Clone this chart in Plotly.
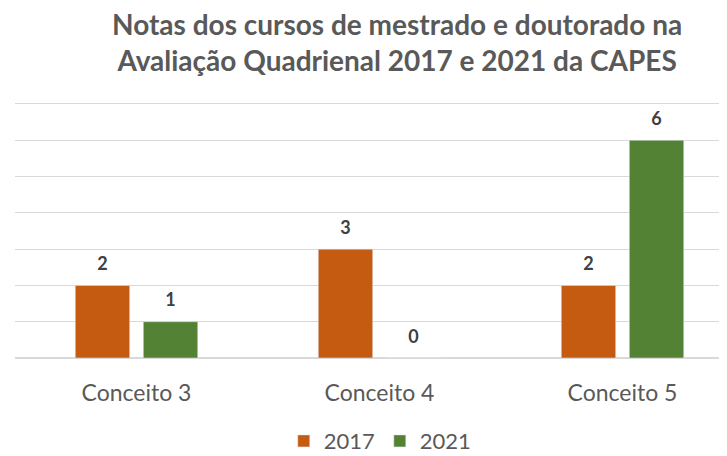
import plotly.graph_objects as go

categorias = ["Conceito 3", "Conceito 4", "Conceito 5"]
notas_2017 = [2, 3, 2]
notas_2021 = [1, 0, 6]

fonte = "Lato, 'Open Sans', sans-serif"
laranja = "#C55A11"
verde = "#548235"
cinza = "#595959"

fig = go.Figure()
for nome, valores, cor in [("2017", notas_2017, laranja), ("2021", notas_2021, verde)]:
    fig.add_trace(go.Bar(x=categorias, y=valores, name=nome, marker_color=cor,
                         offsetgroup=nome, hoverinfo="x+y+name"))
# rotulos de dados: scatter agrupado com marcador invisivel para afastar o texto da barra
for nome, valores in [("2017", notas_2017), ("2021", notas_2021)]:
    fig.add_trace(go.Scatter(x=categorias, y=valores, mode="markers+text", text=valores,
                             textposition="top center", offsetgroup=nome, showlegend=False,
                             hoverinfo="skip", cliponaxis=False,
                             marker=dict(size=16, opacity=0),
                             textfont=dict(size=18, color="#404040", family=fonte, weight="bold")))

# titulo como anotacao (titulo de duas linhas fica mal posicionado)
fig.add_annotation(text="Notas dos cursos de mestrado e doutorado na<br>Avaliação Quadrienal 2017 e 2021 da CAPES",
                   xref="paper", yref="paper", x=0.536, y=1.225, xanchor="center", yanchor="middle",
                   showarrow=False, font=dict(size=28, color=cinza, family=fonte, weight="bold"))

fig.update_layout(
    width=719, height=456,
    margin=dict(l=7, r=0, t=92, b=106),
    paper_bgcolor="white", plot_bgcolor="white",
    barmode="group", bargap=0.44, bargroupgap=0.2,
    scattermode="group", scattergap=0.44,
    font=dict(family=fonte, color=cinza),
    legend=dict(orientation="h", x=0.513, xanchor="center", y=-0.322, yanchor="middle",
                font=dict(size=22, color=cinza), itemwidth=30),
    showlegend=True,
)
fig.update_xaxes(range=[-0.5, 2.43], showgrid=False, showline=False,
                 tickfont=dict(size=23, color=cinza), ticks="", ticklabelstandoff=19)
fig.update_yaxes(range=[0, 7.11], dtick=1, showgrid=True, gridcolor="#D9D9D9", gridwidth=1,
                 showticklabels=False, zeroline=True, zerolinecolor="#D9D9D9", ticks="")

fig.write_html("out.html")
